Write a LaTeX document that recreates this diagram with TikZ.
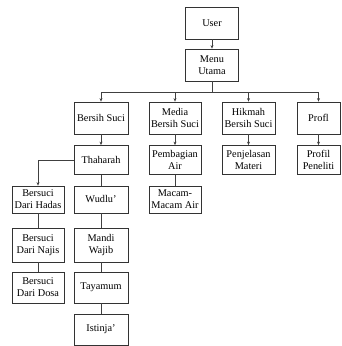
\documentclass[tikz,border=0pt]{standalone}
\usepackage{fontspec}
\setmainfont{Liberation Serif}
\usetikzlibrary{arrows.meta}

\tikzset{
  kotak/.style={draw=black!80, line width=0.8pt, align=center, inner sep=1pt,
    minimum width=53pt, minimum height=30pt, font=\fontsize{10.3}{12}\selectfont},
  garis/.style={draw=black!75, line width=0.8pt},
  panah/.style={garis, -{Stealth[length=3.5pt,width=3pt]}}
}

\begin{document}
\begin{tikzpicture}[x=1pt,y=1pt]
    \useasboundingbox (0,0) rectangle (342,-346);

    % atas
    \node [kotak, minimum height=32pt] (user) at (212,-23) {User};
    \node [kotak, minimum height=32pt] (menu) at (212,-65) {Menu\\Utama};

    % menu utama
    \node [kotak, minimum height=32pt, minimum width=54pt] (bersih) at (101,-118) {Bersih Suci};
    \node [kotak, minimum height=32pt, minimum width=52pt] (media) at (175,-118) {Media\\Bersih Suci};
    \node [kotak, minimum height=32pt] (hikmah) at (248.5,-118) {Hikmah\\Bersih Suci};
    \node [kotak, minimum height=32pt, minimum width=43pt] (profl) at (318.5,-118) {Profl};

    % sub menu
    \node [kotak, minimum height=29pt, minimum width=54pt] (thaharah) at (101,-160) {Thaharah};
    \node [kotak, minimum height=29pt, minimum width=52pt] (pembagian) at (175,-160) {Pembagian\\Air};
    \node [kotak, minimum height=29pt] (penjelasan) at (248.5,-160) {Penjelasan\\Materi};
    \node [kotak, minimum height=29pt, minimum width=43pt] (peneliti) at (318.5,-160) {Profil\\Peneliti};

    \node [kotak, minimum height=27pt, minimum width=52pt] (hadas) at (38,-199.5) {Bersuci\\Dari Hadas};
    \node [kotak, minimum height=27pt, minimum width=54pt] (wudlu) at (101,-199.5) {Wudlu'};
    \node [kotak, minimum height=27pt, minimum width=52pt] (macam) at (175,-199.5) {Macam-\\Macam Air};

    \node [kotak, minimum height=34pt, minimum width=52pt] (najis) at (38,-245) {Bersuci\\Dari Najis};
    \node [kotak, minimum height=34pt, minimum width=54pt] (mandi) at (101,-245) {Mandi\\Wajib};

    \node [kotak, minimum height=31pt, minimum width=52pt] (dosa) at (38,-287.5) {Bersuci\\Dari Dosa};
    \node [kotak, minimum height=31pt, minimum width=54pt] (tayamum) at (101,-287.5) {Tayamum};
    \node [kotak, minimum height=31pt, minimum width=54pt] (istinja) at (101,-329.5) {Istinja'};

    % penghubung
    \coordinate (cabang) at (212,-92);
    \draw [panah] (user) -- (menu);
    \draw [garis] (menu.south) -- (cabang);
    \draw [garis] (bersih.north |- cabang) -- (profl.north |- cabang);
    \draw [panah] (bersih.north |- cabang) -- (bersih.north);
    \draw [panah] (media.north |- cabang) -- (media.north);
    \draw [panah] (hikmah.north |- cabang) -- (hikmah.north);
    \draw [panah] (profl.north |- cabang) -- (profl.north);

    \draw [panah] (bersih) -- (thaharah);
    \draw [panah] (media) -- (pembagian);
    \draw [panah] (hikmah) -- (penjelasan);
    \draw [panah] (profl) -- (peneliti);

    \draw [panah] (thaharah.west) -| (hadas.north);
    \draw [garis] (thaharah) -- (wudlu);
    \draw [garis] (pembagian) -- (macam);
    \draw [garis] (hadas) -- (najis);
    \draw [garis] (najis) -- (dosa);
    \draw [garis] (wudlu) -- (mandi);
    \draw [garis] (mandi) -- (tayamum);
    \draw [garis] (tayamum) -- (istinja);
\end{tikzpicture}
\end{document}
